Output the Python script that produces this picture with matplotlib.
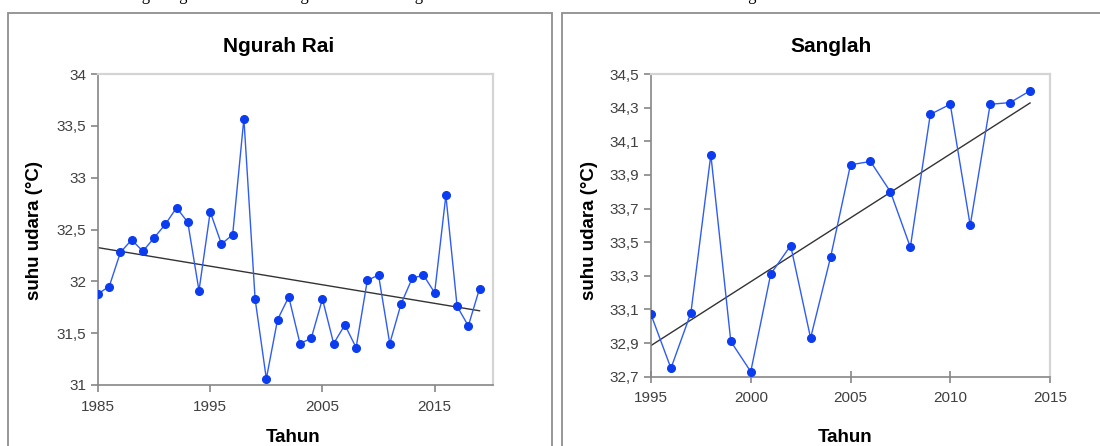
import matplotlib
matplotlib.use('Agg')
import matplotlib.pyplot as plt
import matplotlib.ticker as mticker
from matplotlib.patches import Rectangle
import numpy as np

plt.rcParams['font.family'] = ['Liberation Sans', 'DejaVu Sans']

# data: suhu udara maksimum tahunan
tahun_ngurah = list(range(1985, 2020))
suhu_ngurah = [31.88, 31.95, 32.28, 32.40, 32.29, 32.42, 32.55, 32.71, 32.57, 31.91,
               32.67, 32.36, 32.45, 33.57, 31.83, 31.06, 31.63, 31.85, 31.40, 31.45,
               31.83, 31.40, 31.58, 31.36, 32.01, 32.06, 31.40, 31.78, 32.03, 32.06,
               31.89, 32.83, 31.76, 31.57, 31.93]

tahun_sanglah = list(range(1995, 2015))
suhu_sanglah = [33.07, 32.75, 33.08, 34.02, 32.91, 32.73, 33.31, 33.48, 32.93, 33.41,
                33.96, 33.98, 33.80, 33.47, 34.26, 34.32, 33.60, 34.32, 34.33, 34.40]

yticks_ngurah = [31, 31.5, 32, 32.5, 33, 33.5, 34]
xticks_ngurah = [1985, 1995, 2005, 2015]
yticks_sanglah = [32.7, 32.9, 33.1, 33.3, 33.5, 33.7, 33.9, 34.1, 34.3, 34.5]
xticks_sanglah = [1995, 2000, 2005, 2010, 2015]

W, H = 1100, 446
fig = plt.figure(figsize=(11, 4.46), dpi=100)

# potongan baris teks dokumen di atas gambar (terpotong seperti di aslinya)
fig.text(0.01, 1 - 0.5 / H,
         'Stasiun   Meteorologi   Ngurah Rai dan dengan   Stasiun Sanglah   tahun 1985-2019 dan Stasiun Geofisika Sanglah',
         family='Liberation Serif', fontsize=12, va='baseline', ha='left', color='black')

# bingkai panel
for x0, x1 in [(8, 552), (562, 1110)]:
    fig.patches.append(Rectangle((x0 / W, -0.05), (x1 - x0) / W, 1.05 - 13 / H,
                                 transform=fig.transFigure, fill=False,
                                 edgecolor='#8f8f8f', linewidth=1.3))


def comma(fmt):
    return mticker.FuncFormatter(lambda v, p: format(v, fmt).replace('.', ','))


def style(ax):
    for s in ['left', 'bottom']:
        ax.spines[s].set_color('#868686')
        ax.spines[s].set_linewidth(1.2)
    for s in ['top', 'right']:
        ax.spines[s].set_color('#d4d4d4')
        ax.spines[s].set_linewidth(1.6)
    ax.tick_params(colors='#868686', labelcolor='#404040', labelsize=11, length=5, width=1.2)
    ax.tick_params(axis='x', pad=6)


def panel(rect, x, y, xt, yt, xlim, fmt, judul, tx, ylx):
    ax = fig.add_axes(rect)
    ax.plot(x, y, '-o', color='#2f5cf5', linewidth=1, markersize=5.5,
            markerfacecolor='#0b3cf0', markeredgecolor='#0b3cf0', zorder=3)
    k = np.polyfit(x, y, 1)
    ax.plot([x[0], x[-1]], np.polyval(k, [x[0], x[-1]]), color='#333333', linewidth=1, zorder=2)
    ax.set_xlim(*xlim)
    ax.set_ylim(yt[0], yt[-1])
    ax.set_xticks(xt)
    ax.set_yticks(yt)
    ax.yaxis.set_major_formatter(comma(fmt))
    style(ax)
    fig.text(tx / W, 1 - 47 / H, judul, fontsize=15, fontweight='bold', ha='center', va='center')
    fig.text((tx + 14) / W, 1 - 437 / H, 'Tahun', fontsize=13.5, fontweight='bold', ha='center', va='center')
    fig.text(ylx / W, 1 - 230 / H, 'suhu udara (°C)', fontsize=13.5, fontweight='bold',
             rotation=90, ha='center', va='center')
    return ax


ax1 = panel([98 / W, 1 - 385 / H, 395 / W, 311 / H], tahun_ngurah, suhu_ngurah,
            xticks_ngurah, yticks_ngurah, (1985, 2020.2), 'g', 'Ngurah Rai', 279, 35)
ax2 = panel([651 / W, 1 - 376.7 / H, 399 / W, 302.7 / H], tahun_sanglah, suhu_sanglah,
            xticks_sanglah, yticks_sanglah, (1995, 2015), '.1f', 'Sanglah', 831, 590)
ax2.tick_params(axis='x', direction='inout', length=9)

fig.savefig('out.png', dpi=100)
